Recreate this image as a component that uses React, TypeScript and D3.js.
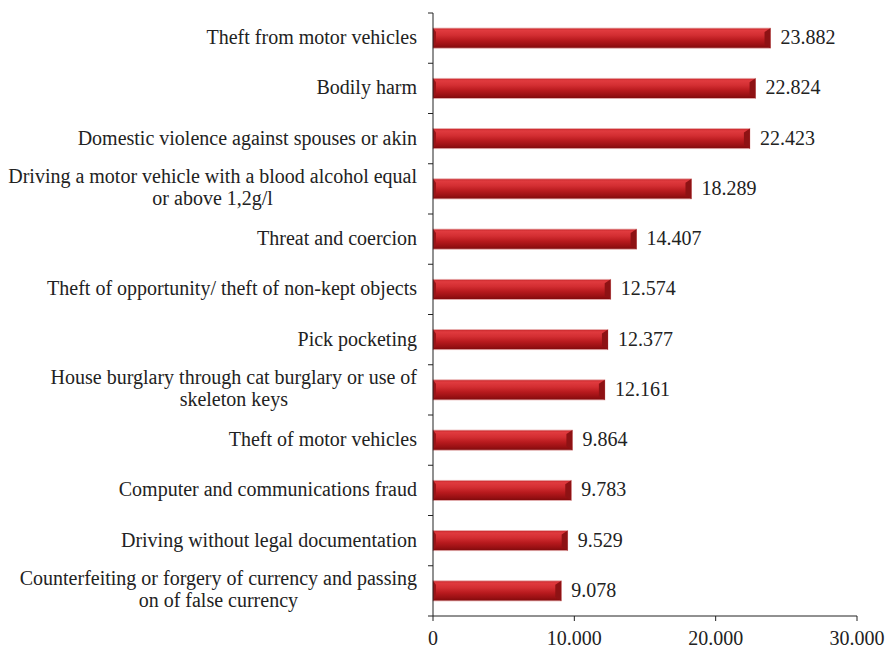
import React, { useEffect, useRef } from "react";
import * as d3 from "d3";

const categories: string[][] = [
  ["Theft from motor vehicles"],
  ["Bodily harm"],
  ["Domestic violence against spouses or akin"],
  ["Driving a motor vehicle with a blood alcohol equal", "or above 1,2g/l"],
  ["Threat and coercion"],
  ["Theft of opportunity/ theft of non-kept objects"],
  ["Pick pocketing"],
  ["House burglary through cat burglary or use of", "skeleton keys"],
  ["Theft of motor vehicles"],
  ["Computer and communications fraud"],
  ["Driving without legal documentation"],
  ["Counterfeiting or forgery of currency and passing", "on of false currency"],
];
const values: number[] = [23882, 22824, 22423, 18289, 14407, 12574, 12377, 12161, 9864, 9783, 9529, 9078];
const xTicks: number[] = [0, 10000, 20000, 30000];
const valueLabels: string[] = ["23.882", "22.824", "22.423", "18.289", "14.407", "12.574", "12.377", "12.161", "9.864", "9.783", "9.529", "9.078"];
const tickLabels: string[] = ["0", "10.000", "20.000", "30.000"];

const W = 887;
const H = 649;
const FONT = "'Liberation Serif', 'Times New Roman', serif";
const FS = 20;

export default function App() {
  const ref = useRef<SVGSVGElement | null>(null);

  useEffect(() => {
    const svg = d3.select(ref.current);
    svg.selectAll("*").remove();

    const x0 = 433, x1 = 857, yTop = 13, yBot = 616;
    const x = d3.scaleLinear().domain([0, 30000]).range([x0, x1]);
    const y = d3.scaleBand<number>().domain(d3.range(categories.length)).range([yTop, yBot]).paddingInner(0.6).paddingOuter(0.3);
    const band = d3.scaleBand<number>().domain(d3.range(categories.length)).range([yTop, yBot]);

    const defs = svg.append("defs");
    const g = defs.append("linearGradient").attr("id", "barGrad").attr("x1", 0).attr("y1", 0).attr("x2", 0).attr("y2", 1);
    [
      [0, "#c8282c"],
      [0.12, "#e03a3e"],
      [0.35, "#d32e32"],
      [0.6, "#b81a1e"],
      [0.85, "#981013"],
      [1, "#7d0a0c"],
    ].forEach(([o, c]) => g.append("stop").attr("offset", o as number).attr("stop-color", c as string));

    const bars = svg.append("g");
    values.forEach((v, i) => {
      const by = y(i)!;
      const bh = y.bandwidth();
      const bx = x(0);
      const bw = x(v) - x(0);
      const ex = bx + bw;
      bars.append("rect").attr("x", bx).attr("y", by).attr("width", bw).attr("height", bh)
        .attr("fill", "url(#barGrad)").attr("stroke", "#e7b0b0").attr("stroke-width", 0.8);
      const bev = 6;
      bars.append("polygon")
        .attr("points", `${ex - bev},${by + 4} ${ex},${by} ${ex},${by + bh} ${ex - bev},${by + bh - 4}`)
        .attr("fill", "#8e1214");
      bars.append("polygon")
        .attr("points", `${bx},${by} ${bx + 3},${by + 4} ${bx + 3},${by + bh - 4} ${bx},${by + bh}`)
        .attr("fill", "#9a1518");
      svg.append("text").attr("x", ex + 10).attr("y", by + bh / 2 + 6)
        .attr("font-family", FONT).attr("font-size", FS).attr("fill", "#222").text(valueLabels[i]);
    });

    // y axis
    const axis = svg.append("g").attr("stroke", "#222").attr("stroke-width", 1);
    axis.append("line").attr("x1", x0).attr("x2", x0).attr("y1", yTop).attr("y2", yBot);
    d3.range(categories.length + 1).forEach((k) => {
      const ty = yTop + k * band.bandwidth();
      axis.append("line").attr("x1", x0 - 5).attr("x2", x0).attr("y1", ty).attr("y2", ty);
    });
    // x axis
    axis.append("line").attr("x1", x0).attr("x2", x1).attr("y1", yBot).attr("y2", yBot);
    xTicks.forEach((t, i) => {
      axis.append("line").attr("x1", x(t)).attr("x2", x(t)).attr("y1", yBot).attr("y2", yBot + 5);
      svg.append("text").attr("x", x(t)).attr("y", yBot + 29).attr("text-anchor", "middle")
        .attr("font-family", FONT).attr("font-size", FS).attr("fill", "#222").text(tickLabels[i]);
    });

    // category labels
    const right = 417;
    categories.forEach((lines, i) => {
      const cy = band(i)! + band.bandwidth() / 2;
      if (lines.length === 1) {
        svg.append("text").attr("x", right).attr("y", cy + 6).attr("text-anchor", "end")
          .attr("font-family", FONT).attr("font-size", FS).attr("fill", "#222").text(lines[0]);
      } else {
        const t1 = svg.append("text").attr("x", right).attr("y", cy - 5.5).attr("text-anchor", "end")
          .attr("font-family", FONT).attr("font-size", FS).attr("fill", "#222").text(lines[0]);
        const w = (t1.node() as SVGTextElement).getComputedTextLength();
        svg.append("text").attr("x", right - w / 2).attr("y", cy + 16.5).attr("text-anchor", "middle")
          .attr("font-family", FONT).attr("font-size", FS).attr("fill", "#222").text(lines[1]);
      }
    });
  }, []);

  return <svg ref={ref} width={W} height={H} style={{ display: "block", position: "absolute", left: 0, top: 0, background: "#fff" }} />;
}
